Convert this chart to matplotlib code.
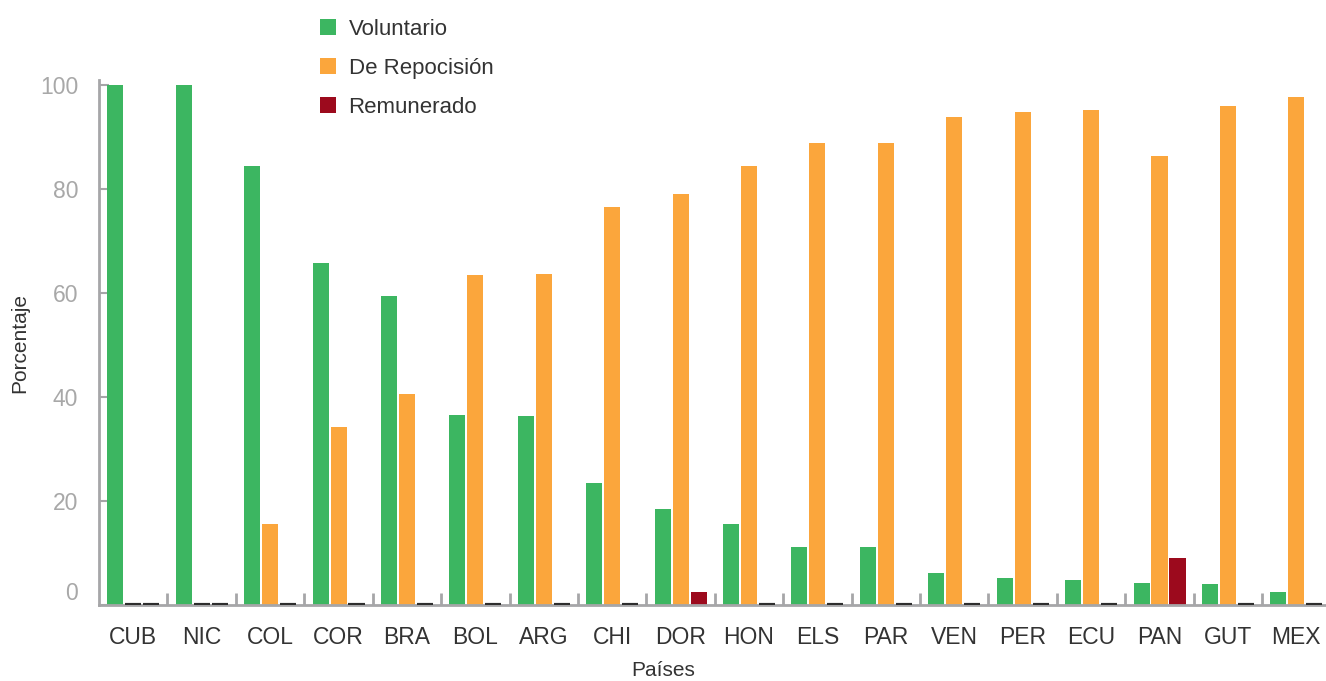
import numpy as np
import matplotlib.pyplot as plt
from matplotlib.patches import Patch
from matplotlib.ticker import FixedLocator

plt.rcParams['font.family'] = ['Liberation Sans', 'DejaVu Sans']

paises = ["CUB", "NIC", "COL", "COR", "BRA", "BOL", "ARG", "CHI", "DOR",
          "HON", "ELS", "PAR", "VEN", "PER", "ECU", "PAN", "GUT", "MEX"]
voluntario = [100, 100, 84.5, 65.8, 59.5, 36.5, 36.3, 23.5, 18.5,
              15.5, 11.2, 11.2, 6.2, 5.2, 4.8, 4.2, 4.0, 2.5]
reposicion = [0, 0, 15.5, 34.2, 40.5, 63.5, 63.7, 76.5, 79.0,
              84.5, 88.8, 88.8, 93.8, 94.8, 95.2, 86.3, 96.0, 97.8]
remunerado = [0, 0, 0, 0, 0, 0, 0, 0, 2.5,
              0, 0, 0, 0, 0, 0, 9.0, 0, 0]

series = [("Voluntario", voluntario, "#3cb661"),
          ("De Repocisión", reposicion, "#fba63c"),
          ("Remunerado", remunerado, "#9c0a1d")]

fig = plt.figure(figsize=(13.26, 6.81), dpi=100, facecolor="white")
ax = fig.add_axes([0.0747, 0.1116, 0.9246, 0.7709])

x = np.arange(len(paises))
w = 0.234
off = 0.263
for i, (name, vals, col) in enumerate(series):
    vals = np.array(vals)
    xs = x + (i - 1) * off
    ax.bar(xs, vals, width=w, color=col, zorder=2)
    # valores cero: linea oscura sobre el eje
    z = xs[vals == 0]
    ax.hlines(np.zeros(len(z)), z - w / 2, z + w / 2, color="#2e2e2e", lw=3, zorder=3)

ax.set_xlim(-0.5, 17.42)
ax.set_ylim(0, 101)

for s in ["top", "right"]:
    ax.spines[s].set_visible(False)
for s in ["left", "bottom"]:
    ax.spines[s].set_color("#a6a6a8")
    ax.spines[s].set_linewidth(2)

ax.set_yticks([0, 20, 40, 60, 80, 100])
ax.tick_params(axis="y", direction="in", length=7, width=1.5, color="#a6a6a8",
               labelcolor="#a8a8a8", labelsize=16.5, pad=15)
ax.get_yticklabels()[0].set_verticalalignment("bottom")
ax.set_xticks(x)
ax.set_xticklabels(paises)
ax.tick_params(axis="x", which="major", length=0, labelcolor="#333333", labelsize=16.5, pad=15)
ax.xaxis.set_minor_locator(FixedLocator(x[:-1] + 0.5))
ax.tick_params(axis="x", which="minor", direction="in", length=9, width=2, color="#a6a6a8")

ax.set_ylabel("Porcentaje", fontsize=15, color="#333333", labelpad=8)
fig.text(0.5, 1 - 670 / 681, "Países", fontsize=15, color="#333333", ha="center", va="center")

handles = [Patch(facecolor=c, label=n) for n, v, c in series]
fig.legend(handles=handles, loc="upper left", bbox_to_anchor=(0.226, 1.002),
           frameon=False, fontsize=16, handlelength=0.75, handleheight=0.75,
           labelspacing=0.82, handletextpad=0.55, labelcolor="#333333")

fig.savefig("out.png", dpi=100, facecolor="white")
